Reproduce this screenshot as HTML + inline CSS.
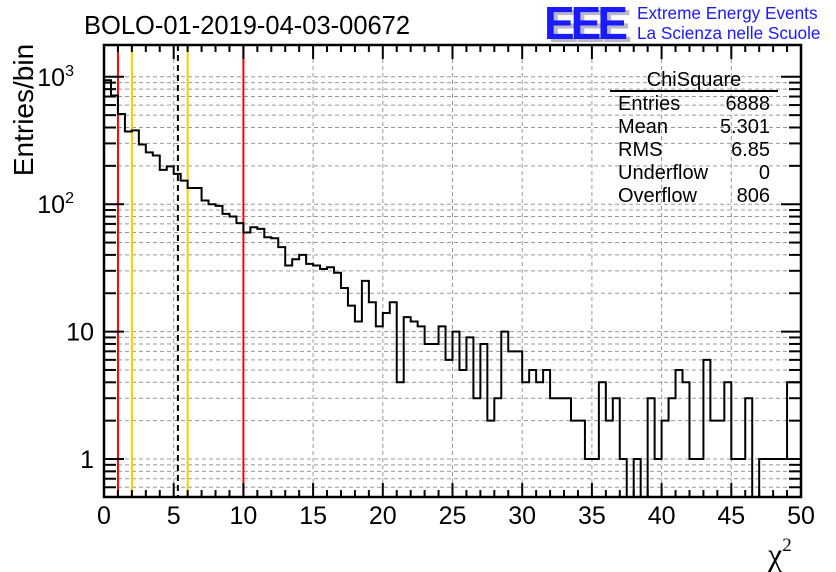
<!DOCTYPE html>
<html><head><meta charset="utf-8"><style>
html,body{margin:0;padding:0;background:#fff;}
svg{display:block;font-family:"Liberation Sans",sans-serif;}
</style></head><body>
<svg id="c" width="836" height="572" viewBox="0 0 836 572">
<defs><clipPath id="fr"><rect x="104" y="45" width="697" height="452"/></clipPath></defs>
<rect x="0" y="0" width="836" height="572" fill="#fff"/>
<g id="grid"></g>
<g id="lines" clip-path="url(#fr)"></g>
<g id="hist" clip-path="url(#fr)"></g>
<g id="axes"></g>
<text x="84" y="34" font-size="25.5">BOLO-01-2019-04-03-00672</text>
<text transform="translate(33,110) rotate(-90)" text-anchor="middle" font-size="28">Entries/bin</text>
<text x="768" y="565" font-size="32" font-family="'Liberation Serif',serif">χ<tspan font-size="19" dy="-14">2</tspan></text>
<g font-size="20">
<text x="694" y="86" text-anchor="middle">ChiSquare</text>
<line x1="610" y1="91" x2="778" y2="91" stroke="#000" stroke-width="2"/>
<text x="618" y="110">Entries</text><text x="770" y="110" text-anchor="end">6888</text>
<text x="618" y="133">Mean</text><text x="770" y="133" text-anchor="end">5.301</text>
<text x="618" y="156">RMS</text><text x="770" y="156" text-anchor="end">6.85</text>
<text x="618" y="179">Underflow</text><text x="770" y="179" text-anchor="end">0</text>
<text x="618" y="202">Overflow</text><text x="770" y="202" text-anchor="end">806</text>
</g>
<g>
<text x="548" y="42" font-size="46" font-weight="bold" fill="#b8b8c8" textLength="84">EEE</text>
<text x="544" y="39" font-size="46" font-weight="bold" fill="#1a1aff" textLength="84">EEE</text>
<text x="637" y="19" font-size="17.2" fill="#1a1aff">Extreme Energy Events</text>
<text x="637" y="39" font-size="17.2" fill="#1a1aff">La Scienza nelle Scuole</text>
</g>
</svg>
<script>
const binValues=[940,714,510,372,380,294,255,241,186,198,173,153,134,134,107,100,97,84,80,71,60,66,64,55,54,46,33,37,40,34,33,31,32,29,22,16,12,25,17,11,14,17,4,13,12,11,8,8,11,6,10,5,9,3,8,2,3,10,7,7,4,5,4,5,3,3,3,2,2,1,1,4,2,3,1,0,1,0,3,1,2,3,5,4,1,1,6,2,2,4,1,1,3,0,1,1,1,1,4,4];
const xTickLabels=["0","5","10","15","20","25","30","35","40","45","50"];
const yTickLabels=["1","10","10²","10³"];
const refLineX=[1,2,5.301,6,10];
const refLineColor=["#ff0000","#ffcc00","#000","#ffcc00","#ff0000"];
const binWidth=0.5, xMin=0, xMax=50;
const L=104,R=801,T=45,B=497;
const sx=v=>L+(v-xMin)/(xMax-xMin)*(R-L);
const sy=v=>v<=0?B+2:459-127.4*Math.log10(v);
const NS="http://www.w3.org/2000/svg";
function mk(p,tag,a){const e=document.createElementNS(NS,tag);for(const k in a)e.setAttribute(k,a[k]);p.appendChild(e);return e;}
const grid=document.getElementById('grid'),axes=document.getElementById('axes'),hist=document.getElementById('hist'),lines=document.getElementById('lines');
for(let i=1;i<xTickLabels.length-1;i++){const x=sx(+xTickLabels[i]);const g=mk(grid,'line',{x1:x,y1:T,x2:x,y2:B,stroke:'#999','stroke-dasharray':'4,3','stroke-width':1});

}
for(let d=-1;d<=3;d++){for(let m=1;m<=9;m++){const v=m*Math.pow(10,d);const y=sy(v);if(y<T||y>B)continue;
const g=mk(grid,'line',{x1:L,y1:y,x2:R,y2:y,stroke:'#999','stroke-dasharray':'4,3','stroke-width':1});


const len=m===1?20:12;
mk(axes,'line',{x1:L,y1:y,x2:L+len,y2:y,stroke:'#000','stroke-width':2});
mk(axes,'line',{x1:R,y1:y,x2:R-len,y2:y,stroke:'#000','stroke-width':2});}}
yTickLabels.forEach((t,i)=>{const y=sy(Math.pow(10,i));let e;
if(i<2){e=mk(axes,'text',{x:L-10,y:y+9,'text-anchor':'end','font-size':25});e.textContent=t;}
else{e=mk(axes,'text',{x:L-30,y:y+9,'text-anchor':'end','font-size':25});e.textContent='10';const s=mk(e,'tspan',{dy:-10,'font-size':16});s.textContent=String(i);}

});
for(let v=xMin;v<=xMax;v+=1){const x=sx(v);const len=v%5===0?14:7;
mk(axes,'line',{x1:x,y1:B,x2:x,y2:B-len,stroke:'#000','stroke-width':2});
mk(axes,'line',{x1:x,y1:T,x2:x,y2:T+len,stroke:'#000','stroke-width':2});}
xTickLabels.forEach(t=>{const e=mk(axes,'text',{x:sx(+t),y:524,'text-anchor':'middle','font-size':25});e.textContent=t;

});
mk(axes,'rect',{x:L,y:T,width:R-L,height:B-T,fill:'none',stroke:'#000','stroke-width':2.5});
refLineX.forEach((v,i)=>{const a={x1:sx(v),y1:T,x2:sx(v),y2:B,stroke:refLineColor[i],'stroke-width':2};if(i===2)a['stroke-dasharray']='6,4';
const e=mk(lines,'line',a);

});
let d='M'+sx(xMin)+','+(B+2);
binValues.forEach((v,i)=>{const x0=sx(i*binWidth),x1=sx((i+1)*binWidth),y=sy(v);d+=' L'+x0+','+y+' L'+x1+','+y;});
d+=' L'+sx(xMax)+','+(B+2);
const p=mk(hist,'path',{d:d,fill:'none',stroke:'#000','stroke-width':2});


</script>
</body></html>
